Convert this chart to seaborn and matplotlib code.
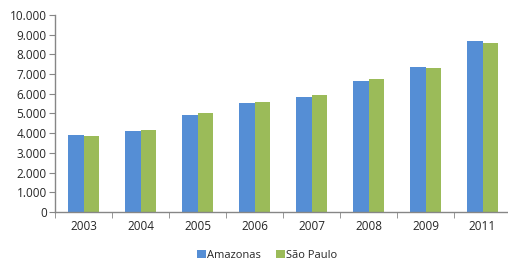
import matplotlib
matplotlib.use("Agg")
import matplotlib.pyplot as plt
import matplotlib.ticker as mticker
import seaborn as sns
import pandas as pd
import numpy as np

years = ["2003", "2004", "2005", "2006", "2007", "2008", "2009", "2011"]
amazonas = [3900, 4130, 4910, 5520, 5820, 6650, 7360, 8665]
sao_paulo = [3850, 4180, 5010, 5570, 5920, 6735, 7310, 8565]
series = ["Amazonas", "São Paulo"]
colors = ["#558ED5", "#9BBB59"]

df = pd.DataFrame({
    "year": years * 2,
    "value": amazonas + sao_paulo,
    "series": [series[0]] * len(years) + [series[1]] * len(years),
})

sns.set_style("white")
plt.rcParams["font.family"] = ["Open Sans", "DejaVu Sans"]

fig = plt.figure(figsize=(5.08, 2.62), dpi=100)
ax = fig.add_axes([55 / 508, 50 / 262, 456 / 508, 197 / 262])

sns.barplot(data=df, x="year", y="value", hue="series", palette=colors,
            width=0.56, saturation=1, ax=ax, legend=True, linewidth=0)

ax.set_ylim(0, 10000)
ax.set_xlim(-0.5, len(years) - 0.5)
ax.yaxis.set_major_locator(mticker.MultipleLocator(1000))
ax.yaxis.set_major_formatter(mticker.FuncFormatter(lambda v, p: f"{int(v):,}".replace(",", ".")))
ax.set_xlabel("")
ax.set_ylabel("")

gray = "#868686"
for s in ["top", "right"]:
    ax.spines[s].set_visible(False)
for s in ["left", "bottom"]:
    ax.spines[s].set_color(gray)
    ax.spines[s].set_linewidth(1)

ax.tick_params(axis="y", which="major", length=4, color=gray, labelsize=8.5, pad=2, left=True)
ax.tick_params(axis="x", which="major", length=0, labelsize=8.5, pad=6)
ax.set_xticks(np.arange(-0.5, len(years) + 0.5, 1), minor=True)
ax.tick_params(axis="x", which="minor", length=4, color=gray, bottom=True)

leg = ax.legend(loc="upper center", bbox_to_anchor=(0.465, -0.14), ncol=2, frameon=False,
                fontsize=8, handlelength=0.8, handleheight=0.8, handletextpad=0.15,
                columnspacing=1.3)

fig.savefig("out.png", dpi=100)
